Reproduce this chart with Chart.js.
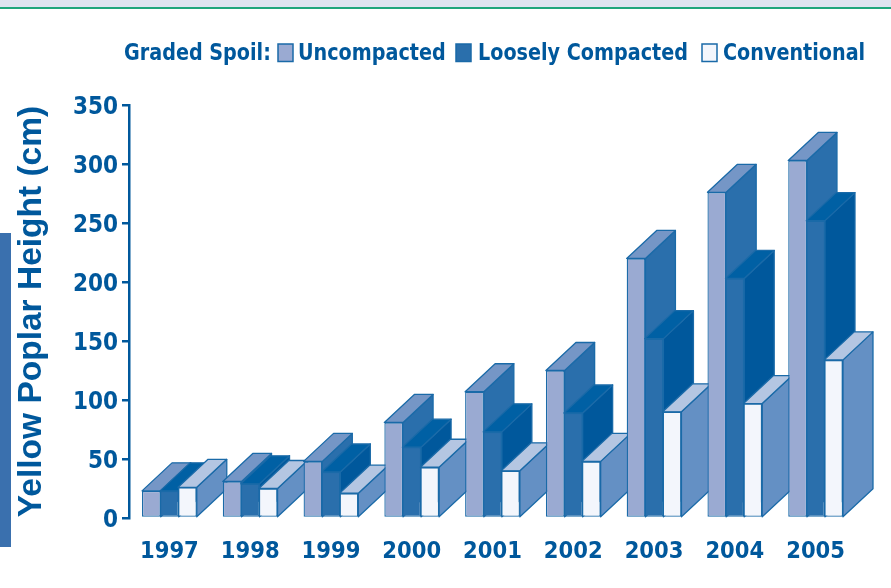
<!DOCTYPE html>
<html><head><meta charset="utf-8">
<style>
html,body{margin:0;padding:0;background:#fff;width:891px;height:588px;overflow:hidden}
#band{position:absolute;left:0;top:0;width:891px;height:7px;background:#dee4f0}
#rule{position:absolute;left:0;top:7px;width:891px;height:2px;background:#1fa67c}
#side{position:absolute;left:0;top:233px;width:11px;height:314px;background:#3a70ae}
#wrap{position:absolute;left:0;top:0;width:891px;height:588px}
</style>
<script src="https://cdn.jsdelivr.net/npm/chart.js@4/dist/chart.umd.min.js"></script>
</head><body>
<div id="band"></div><div id="rule"></div><div id="side"></div>
<div id="wrap"><canvas id="c" width="891" height="588"></canvas></div>
<script>
const years = ['1997','1998','1999','2000','2001','2002','2003','2004','2005'];
const uncompacted = [23,31,48,81,107,125,220,276,303];
const loose = [23,29,39,60,73,89,152,203,252];
const conventional = [26,25,21,43,40,48,90,97,134];
const yTicks = [0,50,100,150,200,250,300,350];
const legendTitle = 'Graded Spoil:';
const ink = '#00589c';
const edge = '#1a6aa8';
const cond = '"DejaVu Sans Condensed"';
const looks = [
  {front:'#9aaad2', side:'#2a6fac', top:'#7596c6', border:edge},
  {front:'#2a6fac', side:'#00589c', top:'#0060a4', border:'#1a6aa8'},
  {front:'#f3f6fc', side:'#6490c4', top:'#b4c6e2', border:edge}
];
const DX = 30, DY = 28;

const bars3d = {
  id:'bars3d',
  beforeDatasetsDraw(chart){
    const ctx = chart.ctx;
    const metas = chart.data.datasets.map((d,i)=>chart.getDatasetMeta(i));
    years.forEach((y,j)=>{
      metas.forEach((m,i)=>{
        const el = m.data[j], L = looks[i];
        const l = el.x - el.width/2, r = el.x + el.width/2, t = el.y, b = el.base;
        ctx.save();
        ctx.lineWidth = 1.3; ctx.lineJoin = 'round';
        ctx.strokeStyle = L.border;
        ctx.fillStyle = L.side;
        ctx.beginPath();
        ctx.moveTo(r,t); ctx.lineTo(r+DX,t-DY); ctx.lineTo(r+DX,b-DY); ctx.lineTo(r,b);
        ctx.closePath(); ctx.fill(); ctx.stroke();
        ctx.fillStyle = L.top;
        ctx.beginPath();
        ctx.moveTo(l,t); ctx.lineTo(l+DX,t-DY); ctx.lineTo(r+DX,t-DY); ctx.lineTo(r,t);
        ctx.closePath(); ctx.fill(); ctx.stroke();
        ctx.restore();
        el.draw(ctx);
      });
    });
    return false;
  }
};

const legend3d = {
  id:'legend3d',
  afterDraw(chart){
    const ctx = chart.ctx;
    const boxX = [278,456,702], textX = [298,478,723];
    const squeeze = 0.927, midY = 54;
    const put = (s,x)=>{ctx.save();ctx.translate(x,midY);ctx.scale(squeeze,1);ctx.fillText(s,0,0);ctx.restore();};
    ctx.save();
    ctx.font = 'bold 23px '+cond;
    ctx.fillStyle = ink; ctx.textBaseline='middle'; ctx.textAlign='left';
    put(legendTitle,124);
    chart.data.datasets.forEach((d,i)=>{
      ctx.fillStyle = looks[i].front; ctx.strokeStyle = edge; ctx.lineWidth = 1.5;
      ctx.fillRect(boxX[i],44,15,17.5); ctx.strokeRect(boxX[i],44,15,17.5);
      ctx.fillStyle = ink;
      put(d.label,textX[i]);
    });
    ctx.restore();
  }
};

const mk = (label,data,i)=>({label,data,backgroundColor:looks[i].front,borderColor:looks[i].border,borderWidth:1.3,borderSkipped:false,
  barPercentage:1.04,categoryPercentage:0.669});

new Chart(document.getElementById('c'),{
  type:'bar',
  data:{labels:years,datasets:[mk('Uncompacted',uncompacted,0),mk('Loosely Compacted',loose,1),mk('Conventional',conventional,2)]},
  options:{
    responsive:false,animation:false,
    layout:{padding:{top:105,right:35,left:0,bottom:0}},
    plugins:{legend:{display:false},tooltip:{enabled:false}},
    scales:{
      x:{
        grid:{display:false},border:{display:false},
        ticks:{color:ink,font:{family:cond,weight:'bold',size:23.5},padding:12,maxRotation:0},
        afterFit(s){s.height=70;}
      },
      y:{
        min:0,max:350,
        afterBuildTicks(s){s.ticks=yTicks.map(v=>({value:v}));},
        grid:{drawOnChartArea:false,color:ink,lineWidth:2.5,tickLength:7,drawTicks:true},
        border:{color:ink,width:2.5},
        ticks:{color:ink,font:{family:cond,weight:'bold',size:24,lineHeight:0.25},padding:4,callback:v=>['',String(v)]},
        title:{display:true,text:'Yellow Poplar Height (cm)',color:ink,
          font:{family:'"Liberation Sans"',weight:'bold',size:33.5,lineHeight:1.2},padding:{top:12,bottom:0}},
        afterFit(s){s.width=129;}
      }
    }
  },
  plugins:[bars3d,legend3d]
});
</script>
</body></html>
